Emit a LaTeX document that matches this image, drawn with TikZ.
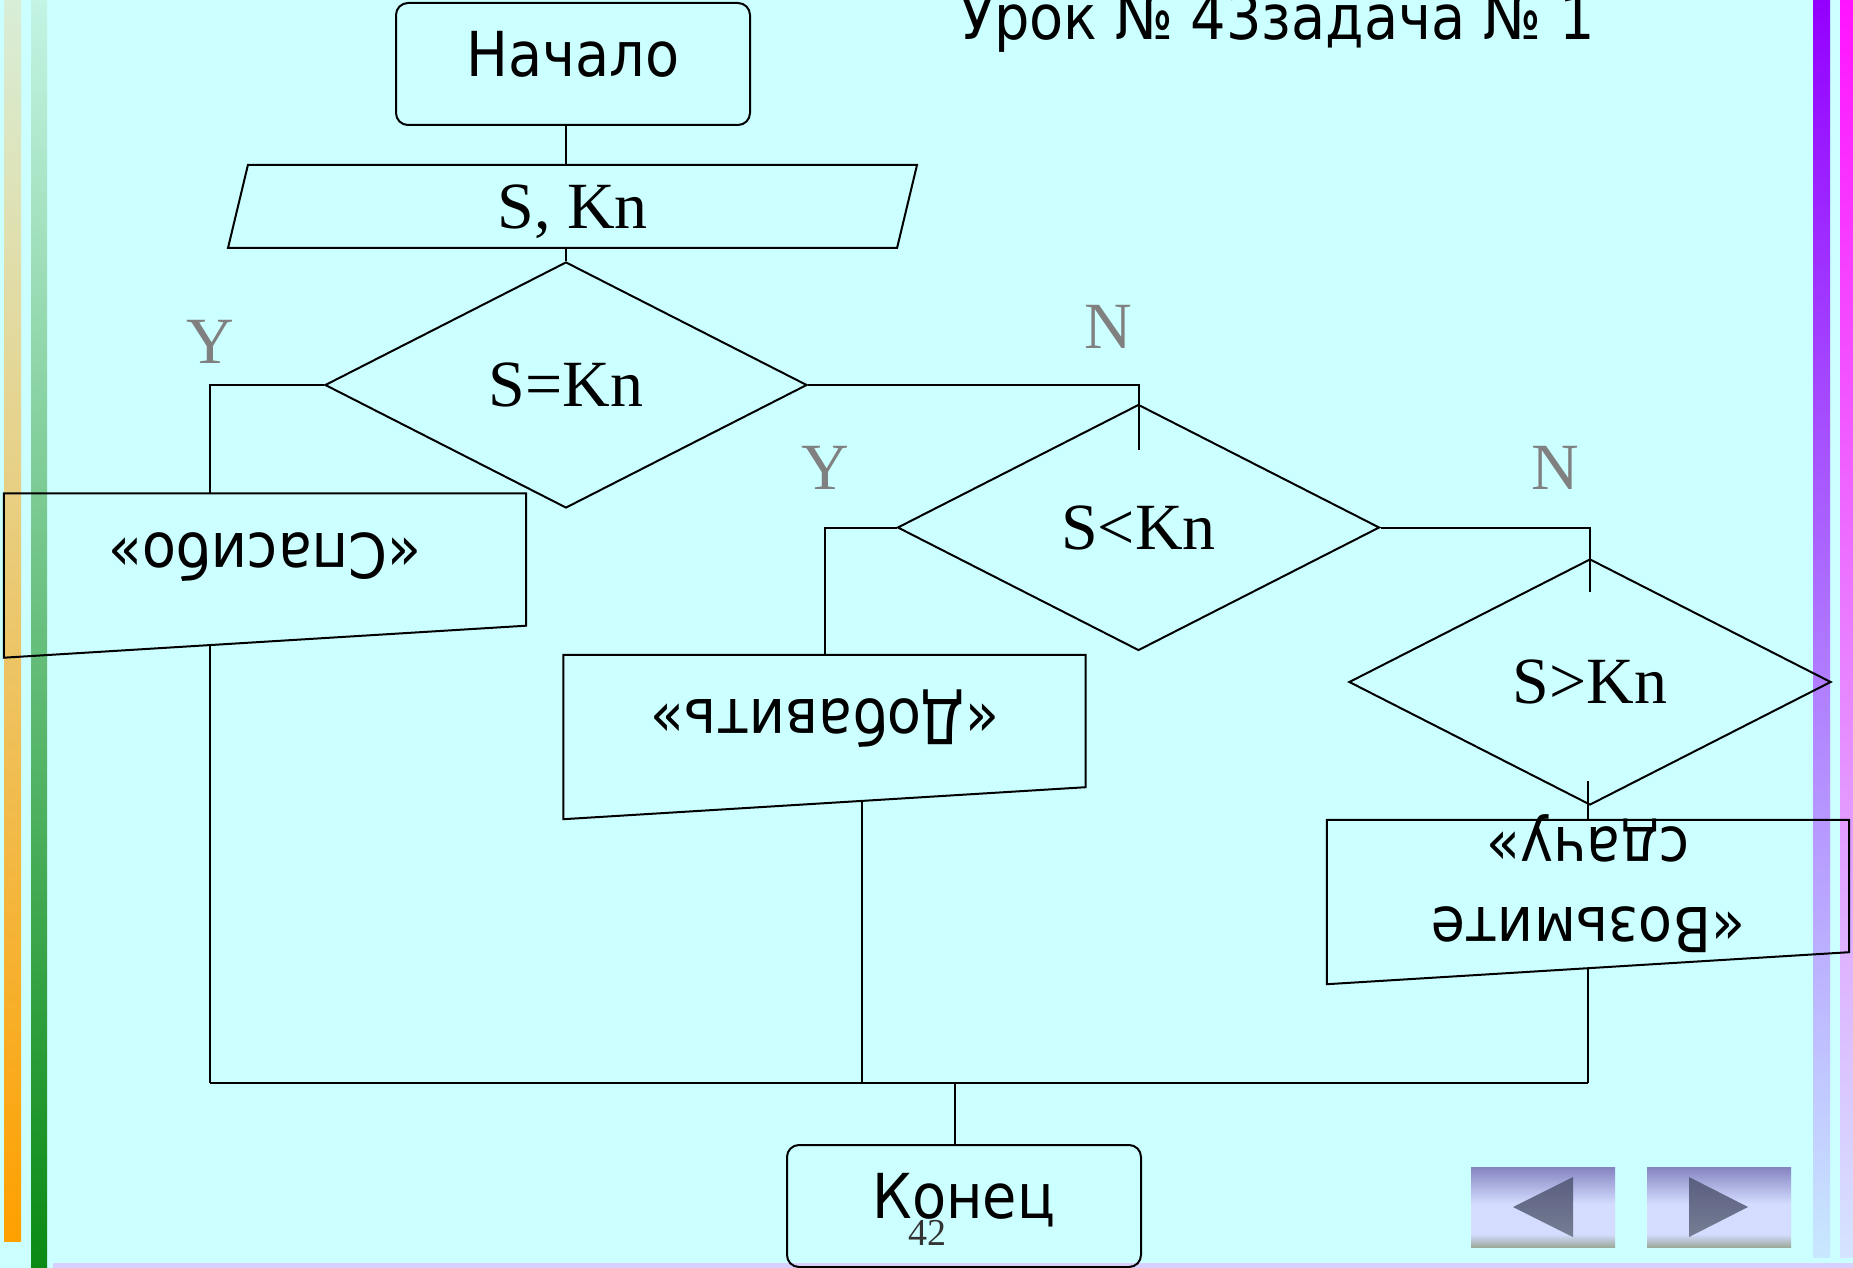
\documentclass[tikz,border=0pt]{standalone}
\usepackage{fontspec}
\setmainfont{Liberation Serif}
\newfontfamily\cyrfont[FakeStretch=0.9]{DejaVu Sans}
\usetikzlibrary{calc,shapes.geometric}

\definecolor{slidebg}{HTML}{CCFFFF}
\definecolor{labelgray}{HTML}{808080}
\definecolor{pagegray}{HTML}{333333}
\definecolor{navblue}{HTML}{8484C0}
\definecolor{navlight}{HTML}{D4DCFF}
\definecolor{navgreen}{HTML}{9CAA9C}
\definecolor{navarrow}{HTML}{767E94}
\definecolor{navarrowtop}{HTML}{5A5E80}
\definecolor{orangetop}{HTML}{D8EED8}
\definecolor{orangebot}{HTML}{FFA000}
\definecolor{greentop}{HTML}{C4F4E4}
\definecolor{greenbot}{HTML}{0A8A14}
\definecolor{purpletop}{HTML}{9400FF}
\definecolor{purplebot}{HTML}{C8E8FF}
\definecolor{magentatop}{HTML}{FF14FF}
\definecolor{magentabot}{HTML}{D4E4FF}
\definecolor{footline}{HTML}{D8D0FF}

\pgfdeclareverticalshading{navbutton}{100bp}{color(0bp)=(navgreen); color(25bp)=(navgreen);
  color(33bp)=(navlight); color(52bp)=(navlight); color(75bp)=(navblue); color(100bp)=(navblue)}

\newcommand{\slidefont}{\cyrfont\fontsize{62}{80}\selectfont}
\newcommand{\formulafont}{\fontsize{66}{80}\selectfont}

\tikzset{
  wire/.style={line width=2pt},
  termbox/.style={draw, wire, rounded corners=12pt, minimum width=354pt, minimum height=122pt,
    font=\slidefont, text height=45pt, text depth=20pt},
  inputbox/.style={draw, wire, trapezium, trapezium left angle=76.5, trapezium right angle=103.5,
    trapezium stretches body, minimum width=689pt, inner ysep=19.5pt,
    font=\formulafont, text height=44pt, text depth=0pt},
  decision/.style={draw, wire, diamond, minimum width=482pt, minimum height=246pt, inner sep=0pt,
    font=\formulafont},
  manualbox/.style={minimum width=522pt, minimum height=164pt, inner sep=0pt},
  rotext/.style={rotate=180, font=\slidefont, align=center, inner sep=0pt},
  branchlabel/.style={font=\formulafont, text=labelgray, inner sep=0pt}
}

% box with a slanted edge, text turned upside down
\newcommand{\manualin}[4]{%
  \node[manualbox] (#1) at (#2,#3) {};
  \coordinate (#1-se) at ($(#1.south east)+(0,-32)$);
  \draw[wire] (#1.north west) -- (#1.north east) -- (#1-se) -- (#1.south west) -- cycle;
  \node[rotext] (#1-text) at ($(#1)+(0,-18)$) {#4};%
}

\begin{document}
\begin{tikzpicture}[x=1pt, y=-1pt]
  \useasboundingbox (0,0) rectangle (1853,1268);
  \fill[slidebg] (0,0) rectangle (1853,1268);

  % side stripes
  \shade[top color=orangetop, bottom color=orangebot] (4,0) rectangle (21,1241);
  \shade[top color=greentop, bottom color=greenbot] (31,0) rectangle (47,1268);
  \shade[top color=purpletop, bottom color=purplebot] (1813,0) rectangle (1830,1257);
  \shade[top color=magentatop, bottom color=magentabot] (1840,0) rectangle (1853,1257);
  \fill[footline] (53,1263) rectangle (1853,1268);

  % title
  \node[font=\slidefont, anchor=base west, inner sep=0pt] (title) at (960,40) {Урок № 43задача № 1};

  % flowchart
  \node[termbox] (start) at (573,64) {Начало};
  \node[inputbox] (inp) at (572.5,206.5) {S, Kn};
  \node[decision] (dia1) at (566,385) {S=Kn};
  \node[decision] (dia2) at (1138.5,527.5) {S<Kn};
  \node[decision] (dia3) at (1590,682) {S>Kn};
  \manualin{spasibo}{265}{575.5}{«Спасибо»}
  \manualin{dobav}{824.5}{737}{«Добавить»}
  \manualin{vozm}{1588}{902}{«Возьмите\\сдачу»}
  \node[termbox] (konec) at (964,1206) {Конец};

  \node[branchlabel] (yes1) at (210,342) {Y};
  \node[branchlabel] (no1) at (1108,327) {N};
  \node[branchlabel] (yes2) at (825,468) {Y};
  \node[branchlabel] (no2) at (1555,468) {N};

  \coordinate (out1) at ($(spasibo.south west)!0.395!(spasibo-se)$);
  \coordinate (out2) at ($(dobav.south west)!0.571!(dobav-se)$);
  \coordinate (out3) at ($(vozm.south west)!0.5!(vozm-se)$);
  \coordinate (join) at ($(konec.north)+(-9,-61)$);

  \draw[wire] (start.south -| dia1.north) -- (inp.north -| dia1.north);
  \draw[wire] (inp.south -| dia1.north) -- (dia1.north);
  \draw[wire] (dia1.west) -| (out1 |- spasibo.north);
  \draw[wire] (dia1.east) -| ($(dia2.north)+(0,46)$);
  \draw[wire] (dia2.west) -| (dobav.north);
  \draw[wire] (dia2.east) -| ($(dia3.north)+(0,34)$);
  \draw[wire] (vozm.north) -- ($(vozm.north |- dia3.south)+(0,-25)$);
  \draw[wire] (out1) -- (out1 |- join);
  \draw[wire] (out2) -- (out2 |- join);
  \draw[wire] (out3) -- (out3 |- join);
  \draw[wire] (out1 |- join) -- (out3 |- join);
  \draw[wire] (join) -- (join |- konec.north);

  \node[font=\fontsize{38}{40}\selectfont, text=pagegray, anchor=base, inner sep=0pt] (pagenum) at (927,1245) {42};

  % navigation buttons
  \shade[shading=navbutton] (1471,1167) rectangle (1615,1247);
  \shade[shading=navbutton] (1647,1167) rectangle (1791,1247);
  \shade[top color=navarrowtop, bottom color=navarrow] (1513,1207) -- (1573,1177) -- (1573,1237) -- cycle;
  \shade[top color=navarrowtop, bottom color=navarrow] (1689,1177) -- (1748,1207) -- (1689,1237) -- cycle;
\end{tikzpicture}
\end{document}
